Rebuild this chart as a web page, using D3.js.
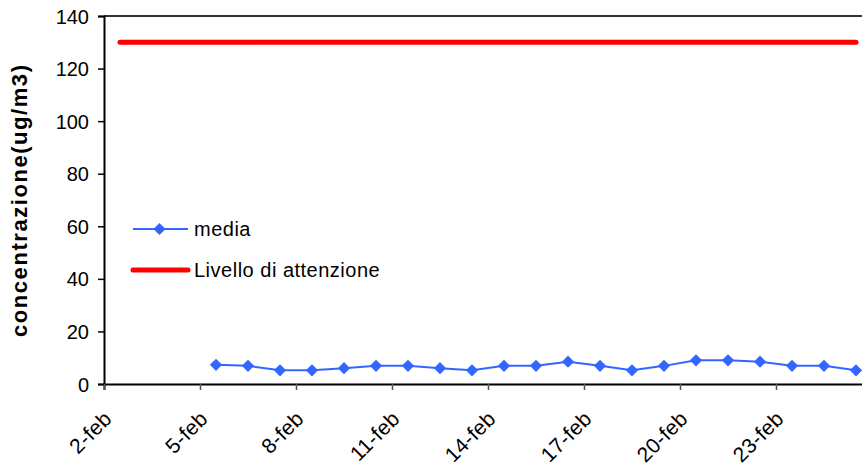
<!DOCTYPE html>
<html>
<head>
<meta charset="utf-8">
<script src="https://cdn.jsdelivr.net/npm/d3@7"></script>
<style>
  body { margin: 0; background: #fff; }
  text { font-family: "Liberation Sans", Arial, sans-serif; fill: #000; }
</style>
</head>
<body>
<div id="chart"></div>
<script>
// days of February shown on the category axis (2-feb .. 25-feb)
var days = d3.range(2, 26);
// "media" series: day -> concentration
var mediaDays = [5, 6, 7, 8, 9, 10, 11, 12, 13, 14, 15, 16, 17, 18, 19, 20, 21, 22, 23, 24, 25];
var mediaValues = [7.3, 6.9, 5.2, 5.2, 6, 6.9, 6.9, 6, 5.2, 6.9, 6.9, 8.5, 6.9, 5.2, 6.9, 9, 9, 8.5, 6.9, 6.9, 5.2];
// threshold ("Livello di attenzione")
var soglia = 130;
var yTicks = [0, 20, 40, 60, 80, 100, 120, 140];
var xTickDays = [2, 5, 8, 11, 14, 17, 20, 23];

var margin = { top: 16, left: 104 },
    width = 862, height = 465,
    plotW = 32 * days.length,
    plotH = 384 - margin.top;

var svg = d3.select("#chart").append("svg")
    .attr("width", width)
    .attr("height", height);

var g = svg.append("g")
    .attr("transform", "translate(" + margin.left + "," + margin.top + ")");

// category axis: point at the middle of each day
var x = d3.scaleLinear()
    .domain([1.5, 25.5])
    .range([0, plotW]);

var y = d3.scaleLinear()
    .domain([0, 140])
    .range([plotH, 0]);

// top border of the plot area
g.append("line")
    .attr("x1", 0).attr("x2", plotW)
    .attr("y1", 0).attr("y2", 0)
    .attr("stroke", "#333").attr("stroke-width", 2);

// y axis
var yAxis = d3.axisLeft(y).tickValues(yTicks).tickSize(6).tickPadding(9);
g.append("g")
    .attr("class", "y-axis")
    .call(yAxis)
    .call(function(a) {
        a.select(".domain").attr("stroke", "#000").attr("stroke-width", 2);
        a.selectAll(".tick line").attr("stroke", "#000").attr("stroke-width", 1.5);
        a.selectAll(".tick text").style("font-size", "20px").attr("dy", "0.35em");
    });

// x axis (ticks at category boundaries)
var xAxis = d3.axisBottom(x)
    .tickValues(xTickDays.map(function(d) { return d - 0.5; }))
    .tickSize(6)
    .tickFormat("");
g.append("g")
    .attr("class", "x-axis")
    .attr("transform", "translate(0," + plotH + ")")
    .call(xAxis)
    .call(function(a) {
        a.select(".domain").attr("stroke", "#000").attr("stroke-width", 2);
        a.selectAll(".tick line").attr("stroke", "#555").attr("stroke-width", 1.5);
    });

// rotated date labels
g.selectAll(".x-label")
    .data(xTickDays)
    .enter().append("text")
    .attr("class", "x-label")
    .attr("transform", function(d) {
        return "translate(" + (x(d - 0.5) + 9) + "," + (plotH + 36) + ") rotate(-45)";
    })
    .style("text-anchor", "end")
    .style("font-size", "21px")
    .style("letter-spacing", "0.3px")
    .text(function(d) { return d + "-feb"; });

// y axis title
svg.append("text")
    .attr("transform", "translate(27," + (margin.top + plotH / 2 + 1) + ") rotate(-90)")
    .style("text-anchor", "middle")
    .style("font-size", "22px")
    .style("font-weight", "bold")
    .attr("textLength", 272)
    .attr("lengthAdjust", "spacing")
    .text("concentrazione(ug/m3)");

// threshold line
g.append("line")
    .attr("x1", x(days[0])).attr("x2", x(days[days.length - 1]))
    .attr("y1", y(soglia)).attr("y2", y(soglia))
    .attr("stroke", "#ff0000").attr("stroke-width", 5)
    .attr("stroke-linecap", "round");

// media series
var mediaData = mediaDays.map(function(d, i) { return { day: d, v: mediaValues[i] }; });
var line = d3.line()
    .x(function(d) { return x(d.day); })
    .y(function(d) { return y(d.v); });

g.append("path")
    .datum(mediaData)
    .attr("d", line)
    .attr("fill", "none")
    .attr("stroke", "#3366ff")
    .attr("stroke-width", 2);

var diamond = d3.symbol().type(d3.symbolDiamond2).size(95);
g.selectAll(".pt")
    .data(mediaData)
    .enter().append("path")
    .attr("class", "pt")
    .attr("d", diamond)
    .attr("transform", function(d) { return "translate(" + x(d.day) + "," + y(d.v) + ")"; })
    .attr("fill", "#3366ff");

// legend
var legend = svg.append("g").attr("transform", "translate(133,229)");
legend.append("line")
    .attr("x1", 0).attr("x2", 55).attr("y1", 0).attr("y2", 0)
    .attr("stroke", "#3366ff").attr("stroke-width", 2);
legend.append("path")
    .attr("d", diamond)
    .attr("transform", "translate(26.5,0)")
    .attr("fill", "#3366ff");
legend.append("text")
    .attr("x", 61).attr("y", 0).attr("dy", "0.35em")
    .style("font-size", "20px")
    .style("letter-spacing", "0.5px")
    .text("media");

legend.append("line")
    .attr("x1", 0).attr("x2", 55).attr("y1", 41).attr("y2", 41)
    .attr("stroke", "#ff0000").attr("stroke-width", 5)
    .attr("stroke-linecap", "round");
legend.append("text")
    .attr("x", 61).attr("y", 41).attr("dy", "0.35em")
    .style("font-size", "20px")
    .style("letter-spacing", "0.5px")
    .text("Livello di attenzione");
</script>
</body>
</html>
